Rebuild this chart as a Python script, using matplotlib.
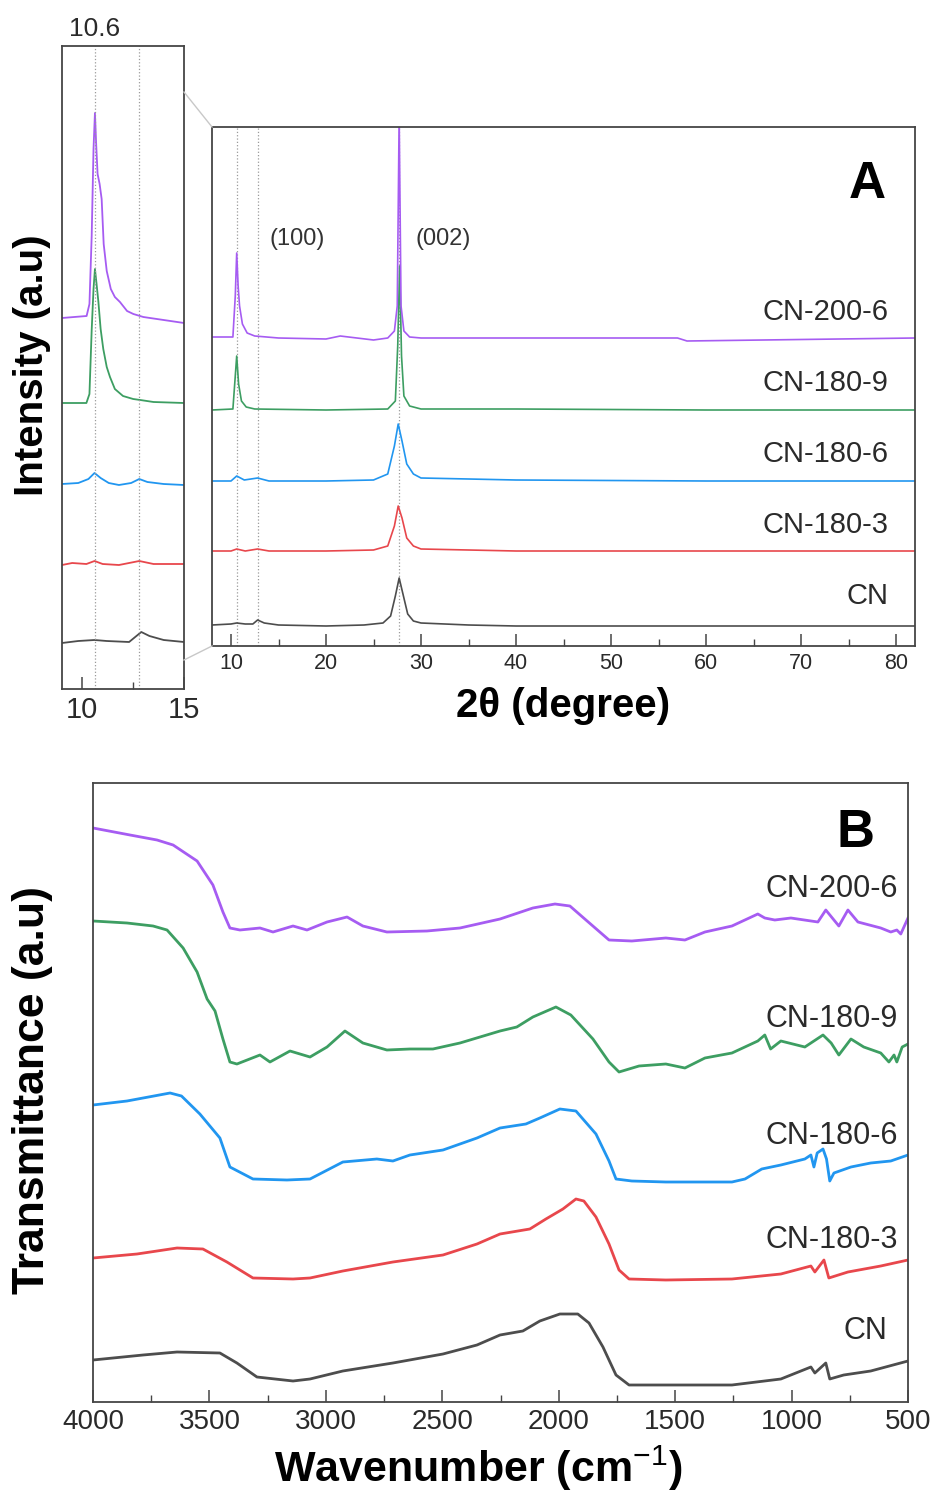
import matplotlib
matplotlib.use("Agg")
import matplotlib.pyplot as plt
from matplotlib.ticker import MultipleLocator
from matplotlib.lines import Line2D

plt.rcParams['font.family'] = ['Liberation Sans', 'DejaVu Sans']
plt.rcParams['mathtext.fontset'] = 'custom'
plt.rcParams['mathtext.rm'] = 'Liberation Sans'
plt.rcParams['mathtext.bf'] = 'Liberation Sans:bold'

#------------------------------------------------------------------
# series names and colours (bottom to top)
names = ['CN', 'CN-180-3', 'CN-180-6', 'CN-180-9', 'CN-200-6']
colors = ['#4d4d4d', '#e8474c', '#2196f0', '#3d9e62', '#a65cf2']

# XRD main panel (2theta, offset intensity)
xrd_cn_x = [8, 10, 10.6, 11.5, 12.3, 12.8, 13.5, 15, 20, 24, 26, 26.8, 27.3, 27.7, 28.1, 28.6, 29.2, 30, 35, 40, 50, 60, 70, 82]
xrd_cn_y = [21, 22, 23, 22, 22, 26, 23, 21, 20, 21, 23, 30, 50, 68, 52, 32, 25, 23, 21, 20, 20, 20, 20, 20]
xrd_1803_x = [8, 10, 10.6, 11.5, 12.8, 14, 20, 25, 26.5, 27.2, 27.6, 28.0, 28.5, 29.2, 30, 40, 60, 82]
xrd_1803_y = [95, 95, 97, 95, 97, 95, 95, 96, 100, 120, 140, 128, 108, 100, 97, 95, 95, 95]
xrd_1806_x = [8, 10, 10.6, 11.4, 12.8, 14, 20, 25, 26.5, 27.2, 27.6, 28.0, 28.5, 29.2, 30, 40, 60, 82]
xrd_1806_y = [165, 165, 170, 166, 168, 165, 165, 166, 172, 200, 222, 205, 182, 172, 168, 166, 165, 165]
xrd_1809_x = [8, 10.2, 10.45, 10.6, 10.8, 11.1, 11.6, 12.5, 20, 26.5, 27.3, 27.55, 27.75, 27.95, 28.2, 28.8, 30, 40, 60, 82]
xrd_1809_y = [236, 237, 270, 290, 262, 245, 239, 237, 236, 237, 245, 300, 380, 290, 250, 240, 237, 237, 236, 236]
xrd_2006_x = [8, 10.2, 10.45, 10.6, 10.75, 10.9, 11.2, 11.7, 12.5, 15, 20, 21.5, 25, 26.5, 27.2, 27.5, 27.7, 27.9, 28.2, 28.8, 30, 57, 58, 82]
xrd_2006_y = [309, 309, 350, 393, 360, 340, 322, 313, 310, 308, 307, 310, 306, 308, 315, 340, 530, 340, 315, 309, 308, 308, 305, 308]

# XRD zoom panel (10-15 degree region, own offsets)
ins_cn_x = [9.0, 9.8, 10.6, 11.2, 12.3, 12.6, 12.9, 13.3, 14.0, 15.0]
ins_cn_y = [46, 48, 49, 48, 47, 52, 57, 53, 49, 47]
ins_1803_x = [9.0, 9.5, 10.2, 10.6, 11.0, 11.8, 12.8, 13.5, 15.0]
ins_1803_y = [124, 126, 125, 128, 125, 124, 128, 125, 125]
ins_1806_x = [9.0, 9.8, 10.3, 10.6, 10.9, 11.3, 11.8, 12.4, 12.8, 13.2, 14.0, 15.0]
ins_1806_y = [205, 206, 210, 216, 211, 206, 204, 206, 210, 207, 205, 204]
ins_1809_x = [9.0, 10.2, 10.35, 10.46, 10.55, 10.62, 10.7, 10.79, 10.9, 11.03, 11.2, 11.36, 11.6, 12.0, 12.5, 12.85, 13.5, 15.0]
ins_1809_y = [286, 286, 295, 359, 400, 420, 405, 387, 360, 340, 322, 312, 300, 293, 290, 289, 287, 286]
ins_2006_x = [9.0, 9.6, 10.21, 10.35, 10.46, 10.55, 10.62, 10.68, 10.75, 10.85, 10.95, 11.05, 11.2, 11.4, 11.6, 11.85, 12.2, 12.51, 13.0, 13.33, 14.0, 15.0]
ins_2006_y = [371, 372, 373, 385, 453, 540, 576, 545, 515, 505, 490, 445, 418, 400, 392, 387, 378, 375, 372, 371, 369, 366]

# FTIR (wavenumber, offset transmittance)
ft_cn_x = [4000, 3785, 3639, 3455, 3382, 3296, 3141, 3068, 2927, 2712, 2497, 2351, 2252, 2154, 2081, 1995, 1918, 1870, 1810, 1754, 1698, 1540, 1256, 1046, 917, 900, 853, 836, 776, 660, 500]
ft_cn_y = [42, 47, 50, 49, 39, 25, 21, 23, 31, 39, 48, 57, 67, 71, 81, 88, 88, 79, 55, 27, 17, 17, 17, 23, 35, 29, 39, 23, 27, 31, 41]
ft_1803_x = [4000, 3811, 3639, 3528, 3425, 3313, 3141, 3068, 2927, 2712, 2497, 2351, 2252, 2124, 2055, 1982, 1926, 1892, 1840, 1784, 1741, 1698, 1540, 1256, 1046, 917, 900, 861, 840, 758, 617, 500]
ft_1803_y = [144, 148, 154, 153, 140, 124, 123, 124, 131, 140, 147, 158, 168, 173, 183, 193, 203, 201, 185, 158, 132, 123, 122, 123, 128, 136, 130, 142, 124, 130, 136, 142]
ft_1806_x = [4000, 3854, 3669, 3620, 3541, 3455, 3412, 3313, 3167, 3068, 2927, 2781, 2712, 2639, 2497, 2351, 2252, 2141, 2081, 1995, 1926, 1840, 1784, 1754, 1686, 1540, 1256, 1200, 1128, 1046, 943, 917, 904, 890, 865, 850, 836, 818, 745, 660, 574, 500]
ft_1806_y = [297, 301, 309, 306, 288, 264, 235, 223, 222, 223, 240, 243, 241, 247, 252, 264, 274, 278, 284, 293, 291, 268, 241, 223, 221, 220, 220, 223, 233, 237, 243, 247, 235, 249, 253, 243, 221, 229, 235, 239, 241, 247]
ft_1809_x = [4000, 3854, 3742, 3682, 3613, 3553, 3510, 3476, 3442, 3412, 3382, 3283, 3240, 3154, 3068, 2995, 2918, 2841, 2738, 2639, 2540, 2424, 2252, 2180, 2111, 2012, 1948, 1853, 1784, 1741, 1655, 1540, 1458, 1372, 1256, 1145, 1115, 1090, 1046, 943, 865, 830, 797, 745, 690, 617, 582, 560, 548, 525, 500]
ft_1809_y = [481, 479, 476, 472, 454, 430, 403, 391, 363, 340, 338, 347, 340, 351, 345, 355, 371, 359, 352, 353, 353, 359, 371, 375, 385, 395, 387, 363, 340, 330, 336, 338, 334, 344, 349, 361, 367, 353, 361, 355, 367, 359, 347, 363, 355, 349, 340, 347, 340, 355, 358]
ft_2006_x = [4000, 3841, 3725, 3656, 3553, 3485, 3442, 3412, 3369, 3283, 3227, 3141, 3081, 2995, 2909, 2841, 2738, 2566, 2424, 2252, 2111, 2016, 1952, 1883, 1784, 1686, 1540, 1458, 1372, 1256, 1145, 1115, 1072, 1003, 887, 853, 797, 758, 715, 617, 574, 548, 531, 500]
ft_2006_y = [574, 567, 562, 557, 541, 517, 490, 474, 472, 474, 470, 476, 472, 480, 485, 476, 470, 471, 474, 483, 494, 498, 496, 482, 462, 461, 464, 462, 470, 476, 488, 484, 482, 484, 480, 492, 476, 492, 480, 474, 470, 472, 468, 484]

xrd_x = [xrd_cn_x, xrd_1803_x, xrd_1806_x, xrd_1809_x, xrd_2006_x]
xrd_y = [xrd_cn_y, xrd_1803_y, xrd_1806_y, xrd_1809_y, xrd_2006_y]
ins_x = [ins_cn_x, ins_1803_x, ins_1806_x, ins_1809_x, ins_2006_x]
ins_y = [ins_cn_y, ins_1803_y, ins_1806_y, ins_1809_y, ins_2006_y]
ft_x = [ft_cn_x, ft_1803_x, ft_1806_x, ft_1809_x, ft_2006_x]
ft_y = [ft_cn_y, ft_1803_y, ft_1806_y, ft_1809_y, ft_2006_y]

xrd_label_y = [50, 121, 192, 263, 334]
ft_label_y = [71, 162, 266, 383, 513]
ref_lines = [10.6, 12.8]
#------------------------------------------------------------------

W, H = 936, 1502
fig = plt.figure(figsize=(W / 100, H / 100), dpi=100)

def box(x0, y0, x1, y1):
    return [x0 / W, 1 - y1 / H, (x1 - x0) / W, (y1 - y0) / H]

spine_c = '#454545'
def style(ax, size):
    for s in ax.spines.values():
        s.set_color(spine_c)
        s.set_linewidth(1.3)
    ax.tick_params(axis='x', which='both', direction='in', top=False, colors=spine_c,
                   labelcolor='#2a2a2a', labelsize=size, pad=5)
    ax.tick_params(axis='x', which='major', length=9, width=1.1)
    ax.tick_params(axis='x', which='minor', length=5, width=1.0)
    ax.set_yticks([])

# zoom panel
ax0 = fig.add_axes(box(62, 46, 184, 689))
for xs, ys, c in zip(ins_x, ins_y, colors):
    ax0.plot(xs, ys, color=c, lw=1.3)
for r in ref_lines:
    ax0.axvline(r, color='#9a9a9a', ls=':', lw=0.9)
ax0.set_xlim(9, 15)
ax0.set_ylim(0, 643)
ax0.set_xticks([10, 15])
ax0.xaxis.set_minor_locator(MultipleLocator(2.5))
style(ax0, 21)
ax0.text(10.6, 1.008, '10.6', transform=ax0.get_xaxis_transform(), ha='center', va='bottom',
         fontsize=19, color='#2a2a2a')
fig.text(32 / W, 1 - 365 / H, 'Intensity (a.u)', rotation=90, ha='center', va='center',
         fontsize=29, fontweight='bold')

# XRD main panel
ax1 = fig.add_axes(box(212, 127, 915, 646))
for xs, ys, c in zip(xrd_x, xrd_y, colors):
    ax1.plot(xs, ys, color=c, lw=1.2)
for r in ref_lines + [27.7]:
    ax1.axvline(r, color='#9a9a9a', ls=':', lw=0.9, zorder=0)
ax1.set_xlim(8, 82)
ax1.set_ylim(0, 519)
ax1.xaxis.set_major_locator(MultipleLocator(10))
ax1.xaxis.set_minor_locator(MultipleLocator(5))
style(ax1, 15.5)
for n, yl in zip(names, xrd_label_y):
    ax1.text(79.2, yl, n, ha='right', va='center', fontsize=21, color='#2a2a2a')
ax1.text(17.0, 407, '(100)', ha='center', va='center', fontsize=17, color='#333333')
ax1.text(32.3, 407, '(002)', ha='center', va='center', fontsize=17, color='#333333')
ax1.text(0.932, 0.89, 'A', transform=ax1.transAxes, ha='center', va='center',
         fontsize=37, fontweight='bold')
fig.text(563 / W, 1 - 706 / H, '2θ (degree)', ha='center', va='center', fontsize=29, fontweight='bold')

# connector lines between zoom panel and main panel
for (xa, ya), (xb, yb) in [((184, 92), (212, 127)), ((184, 660), (212, 646))]:
    fig.add_artist(Line2D([xa / W, xb / W], [1 - ya / H, 1 - yb / H], color='#c8c8c8', lw=1.0))

# FTIR panel
ax2 = fig.add_axes(box(93, 783, 908, 1402))
for xs, ys, c in zip(ft_x, ft_y, colors):
    ax2.plot(xs, ys, color=c, lw=2.0)
ax2.set_xlim(4000, 500)
ax2.set_ylim(0, 619)
ax2.xaxis.set_major_locator(MultipleLocator(500))
ax2.xaxis.set_minor_locator(MultipleLocator(250))
style(ax2, 20)
for n, yl in zip(names, ft_label_y):
    ax2.text(545 if n != 'CN' else 587, yl, n, ha='right', va='center', fontsize=22, color='#2a2a2a')
ax2.text(0.935, 0.919, 'B', transform=ax2.transAxes, ha='center', va='center',
         fontsize=38, fontweight='bold')
fig.text(478 / W, 1 - 1468 / H, 'Wavenumber (cm$^{-1}$)', ha='center', va='center',
         fontsize=31, fontweight='bold')
fig.text(33 / W, 1 - 1090 / H, 'Transmittance (a.u)', rotation=90, ha='center', va='center',
         fontsize=32, fontweight='bold')

fig.savefig('out.png', dpi=100)
